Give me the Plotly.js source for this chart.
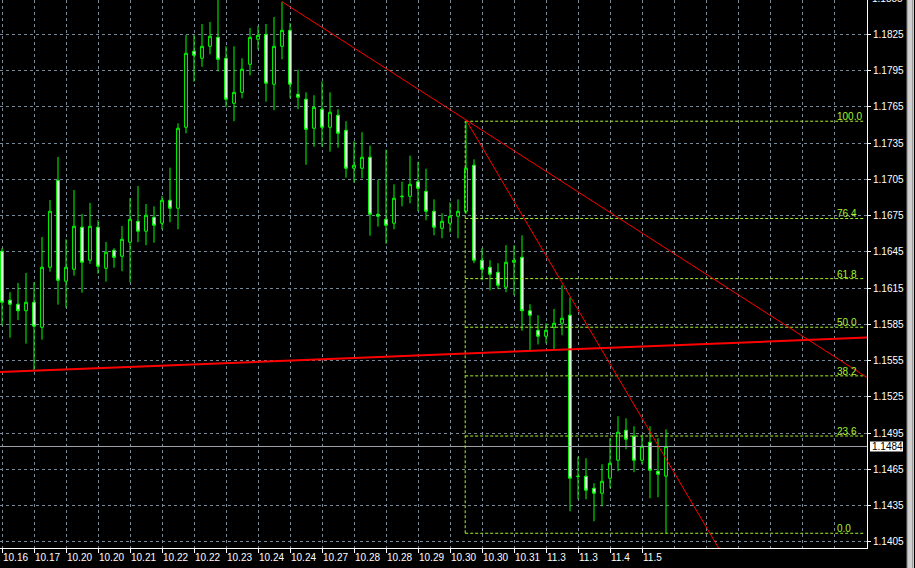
<!DOCTYPE html>
<html><head><meta charset="utf-8">
<script src="https://cdn.plot.ly/plotly-3.0.1.min.js"></script>
<style>html,body{margin:0;padding:0;background:#000;overflow:hidden}</style>
</head><body><div id="chart" style="width:915px;height:568px"></div>
<script>
// ---- data (H4 candles) ----
const open = [1.16455,1.16050,1.16017,1.15963,1.16033,1.15826,1.16323,1.17042,1.16207,1.16306,
1.16654,1.16381,1.16654,1.16314,1.16463,1.16414,1.16530,1.16703,1.16621,1.16736,
1.16687,1.16877,1.16811,1.17481,1.18110,1.18052,1.18151,1.18225,1.18052,1.17679,
1.17770,1.18002,1.18209,1.18250,1.17837,1.18151,1.18283,1.17754,1.17713,1.17473,
1.17630,1.17481,1.17580,1.17456,1.17142,1.17142,1.17233,1.16761,1.16720,1.16687,
1.16906,1.16910,1.17031,1.16951,1.16786,1.16645,1.16687,1.16745,1.16786,1.17167,
1.16381,1.16323,1.16281,1.16157,1.16364,1.16405,1.15963,1.15801,1.15752,1.15826,
1.15859,1.15926,1.14590,1.14594,1.14494,1.14453,1.14577,1.14726,1.14974,1.14925,
1.14726,1.14875,1.14635,1.14594];
const high = [1.16480,1.16116,1.16193,1.16276,1.16199,1.16573,1.16879,1.17235,1.16554,1.16962,
1.16764,1.16855,1.16712,1.16532,1.16480,1.16664,1.16894,1.16995,1.16846,1.16827,
1.16913,1.17147,1.17514,1.18244,1.18244,1.18335,1.18352,1.18545,1.18151,1.18151,
1.18052,1.18302,1.18319,1.18335,1.18393,1.18520,1.18344,1.17957,1.17770,1.17746,
1.17861,1.17770,1.17630,1.17531,1.17365,1.17440,1.17329,1.17047,1.17296,1.17009,
1.17031,1.17246,1.17196,1.17138,1.16885,1.16769,1.16860,1.16885,1.17531,1.17216,
1.16480,1.16381,1.16356,1.16505,1.16505,1.16587,1.16017,1.15926,1.15859,1.15978,
1.16174,1.16074,1.14756,1.14743,1.14536,1.14693,1.14908,1.15090,1.15073,1.15007,
1.14933,1.15007,1.14908,1.14982];
const low = [1.15840,1.15740,1.15885,1.15691,1.15465,1.15724,1.16286,1.16013,1.15988,1.16253,
1.16113,1.16352,1.16270,1.16204,1.16319,1.16290,1.16199,1.16530,1.16505,1.16526,
1.16637,1.16695,1.16637,1.17431,1.17858,1.17982,1.18085,1.17944,1.17646,1.17531,
1.17721,1.17911,1.18126,1.17693,1.17622,1.18043,1.17721,1.17630,1.17171,1.17320,
1.17320,1.17279,1.17312,1.17064,1.17023,1.17059,1.16584,1.16659,1.16518,1.16637,
1.16827,1.16852,1.16786,1.16712,1.16587,1.16563,1.16612,1.16563,1.16764,1.16356,
1.16215,1.16132,1.16141,1.16116,1.16091,1.15798,1.15633,1.15684,1.15694,1.15647,
1.15760,1.14304,1.14403,1.14403,1.14221,1.14345,1.14494,1.14635,1.14817,1.14627,
1.14693,1.14412,1.14420,1.14122];
const close = [1.16033,1.16017,1.15963,1.16033,1.15835,1.16323,1.16786,1.16215,1.16323,1.16662,
1.16364,1.16662,1.16331,1.16447,1.16405,1.16554,1.16720,1.16621,1.16753,1.16670,
1.16877,1.16811,1.17473,1.18093,1.18077,1.18151,1.18234,1.18043,1.17713,1.17770,
1.17961,1.18225,1.18242,1.17845,1.18151,1.18283,1.17837,1.17729,1.17464,1.17646,
1.17481,1.17605,1.17431,1.17142,1.17167,1.17233,1.16761,1.16745,1.16670,1.16894,
1.16910,1.17009,1.16976,1.16786,1.16654,1.16703,1.16745,1.16786,1.17142,1.16381,
1.16306,1.16265,1.16174,1.16364,1.16381,1.15963,1.15926,1.15752,1.15801,1.15859,
1.15901,1.14577,1.14594,1.14478,1.14453,1.14552,1.14701,1.14958,1.14900,1.14726,
1.14842,1.14643,1.14610,1.14840];

const tickIndex = [0,4,8,12,16,20,24,28,32,36,40,44,48,52,56,60,64,68,72,76,80];
const tickLabels = ['10.16','10.17','10.20','10.20','10.21','10.22','10.22','10.23','10.24','10.24',
'10.27','10.28','10.28','10.29','10.30','10.30','10.31','11.3','11.3','11.4','11.5'];

// drawn objects (bar index, price)
const trend1X = [35, 58];      const trend1Y = [1.18520, 1.17542];
const trend2X = [58, 87.25];   const trend2Y = [1.17542, 1.14261];
const supportX = [0, 100];     const supportY = [1.15456, 1.15720];
const bidPrice = 1.1484;
const fibRatios = [0, 23.6, 38.2, 50.0, 61.8, 76.4, 100.0];
const fibLabels = ['0.0','23.6','38.2','50.0','61.8','76.4','100.0'];
const fibStartX = 57.9, fibEndX = 107.66, fibLabelX = 104.31;
const fibHighBar = 58, fibLowBar = 83;

// ---- view ----
const xMin = -0.25, xMax = 108.125;
const yMin = 1.1400, yMax = 1.18534;
const xs = open.map((_, i) => i);

function ext(X, Y, x) { return Y[0] + (Y[1]-Y[0])/(X[1]-X[0])*(x - X[0]); }

const fibHigh = high[fibHighBar], fibLow = low[fibLowBar];
const fibLevels = fibRatios.map(r => fibLow + (fibHigh - fibLow) * r / 100);
const fibXs = [], fibYs = [];
fibLevels.forEach(v => { fibXs.push(fibStartX, fibEndX, null); fibYs.push(v, v, null); });
fibXs.push(fibStartX, fibStartX); fibYs.push(fibLow, fibHigh);

const FIB = '#a9f02e';
const GRID = '#778899';
const FONT = 'Liberation Sans, Arial, sans-serif';

const traces = [
  {type:'scatter', mode:'lines', x:[xMin, xMax], y:[bidPrice, bidPrice],
   line:{color:'#a0a4a8', width:1}, hoverinfo:'skip'},
  {type:'candlestick', x: xs, open, high, low, close,
   increasing:{line:{color:'#00ff00', width:1}, fillcolor:'#000000'},
   decreasing:{line:{color:'#00ff00', width:1}, fillcolor:'#ffffff'},
   whiskerwidth:0, hoverinfo:'skip'},
  {type:'scatter', mode:'lines', x:fibXs, y:fibYs, connectgaps:false,
   line:{color:FIB, width:1, dash:'3px,2px'}, hoverinfo:'skip'},
  {type:'scatter', mode:'lines', x:[xMin, xMax], y:[ext(supportX, supportY, xMin), ext(supportX, supportY, xMax)],
   line:{color:'#ff0000', width:2}, hoverinfo:'skip'},
  {type:'scatter', mode:'lines', x:[trend1X[0], xMax], y:[trend1Y[0], ext(trend1X, trend1Y, xMax)],
   line:{color:'#ff0000', width:1}, hoverinfo:'skip'},
  {type:'scatter', mode:'lines', x:[trend2X[0], 100], y:[trend2Y[0], ext(trend2X, trend2Y, 100)],
   line:{color:'#ff0000', width:1}, hoverinfo:'skip'}
];

const frac = v => (v - yMin) / (yMax - yMin);

const annotations = fibLevels.map((v, i) => ({
  xref:'x', yref:'y', x:fibLabelX, y:v, xanchor:'left', yanchor:'bottom', yshift:-2,
  text:fibLabels[i], showarrow:false, font:{color:FIB, size:10, family:FONT}, borderpad:0
}));
annotations.push({xref:'paper', yref:'paper', x:1, y:frac(bidPrice), xanchor:'left', yanchor:'middle', xshift:4,
  text:bidPrice.toFixed(4), showarrow:false, font:{color:'#000', size:10, family:FONT}, borderpad:0});
annotations.push({xref:'paper', yref:'paper', x:1, y:frac(1.1855), xanchor:'left', yanchor:'middle', xshift:4,
  text:'1.1855', showarrow:false, font:{color:'#fff', size:10, family:FONT}, borderpad:0});

const shapes = [
  {type:'rect', xref:'paper', yref:'paper', xsizemode:'pixel', ysizemode:'pixel', xanchor:1, yanchor:frac(bidPrice),
   x0:3, x1:36, y0:-5, y1:5, fillcolor:'#ffffff', line:{width:0}, layer:'above'},
  {type:'rect', xref:'paper', yref:'paper', xsizemode:'pixel', xanchor:1, x0:40, x1:47, y0:-0.04, y1:1.01,
   fillcolor:'#cfcfcf', line:{width:0}},
  {type:'line', xref:'paper', yref:'paper', xsizemode:'pixel', xanchor:1, x0:40, x1:40, y0:-0.04, y1:1.01,
   line:{color:'#808080', width:1}},
  {type:'line', xref:'paper', yref:'paper', xsizemode:'pixel', xanchor:1, x0:45.5, x1:45.5, y0:-0.04, y1:1.01,
   line:{color:'#9a9a9a', width:1}}
];

const layout = {
  width:915, height:568,
  margin:{l:0, r:48, t:0, b:20, pad:0},
  paper_bgcolor:'#000000', plot_bgcolor:'#000000',
  showlegend:false, boxgap:0.5,
  font:{family:FONT, size:10, color:'#ffffff'},
  xaxis:{range:[xMin, xMax], tickmode:'array', tickvals:tickIndex, ticktext:tickLabels,
    tickangle:0, ticks:'outside', ticklen:4, tickcolor:'#ffffff', tickwidth:1, ticklabelposition:'outside right',
    tickfont:{color:'#ffffff', size:10, family:FONT},
    showgrid:true, gridcolor:GRID, griddash:'3px,3px', gridwidth:1,
    minor:{tickmode:'linear', tick0:0, dtick:4, showgrid:true, gridcolor:GRID, griddash:'3px,3px', gridwidth:1, ticks:''},
    showline:true, linecolor:'#ffffff', linewidth:1, zeroline:false,
    rangeslider:{visible:false}, fixedrange:true},
  yaxis:{side:'right', range:[yMin, yMax], tickmode:'linear', tick0:1.1405, dtick:0.003, tickformat:'.4f',
    ticks:'outside', ticklen:3, tickcolor:'#ffffff', tickwidth:1,
    tickfont:{color:'#ffffff', size:10, family:FONT},
    showgrid:true, gridcolor:GRID, griddash:'3px,3px', gridwidth:1,
    showline:true, linecolor:'#ffffff', linewidth:1, zeroline:false, fixedrange:true},
  annotations, shapes
};

Plotly.newPlot('chart', traces, layout, {staticPlot:true, displayModeBar:false});
</script></body></html>
